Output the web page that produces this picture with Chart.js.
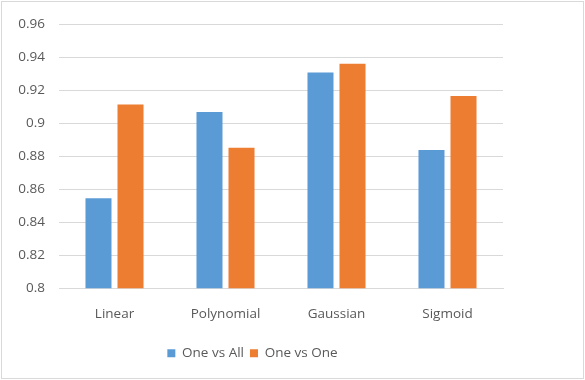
<!DOCTYPE html>
<html>
<head>
<meta charset="utf-8">
<script src="https://cdn.jsdelivr.net/npm/chart.js@4/dist/chart.umd.min.js"></script>
<style>
  html, body { margin: 0; padding: 0; background: #fff; }
  #wrap { position: absolute; left: 1px; top: 1px; width: 581px; height: 376px; border: 1px solid #d9d9d9; box-sizing: content-box; }
  canvas { display: block; }
</style>
</head>
<body>
<div id="wrap"><canvas id="c" width="581" height="376"></canvas></div>
<script>
const categories = ["Linear", "Polynomial", "Gaussian", "Sigmoid"];
const oneVsAll = [0.8545, 0.9068, 0.9307, 0.8838];
const oneVsOne = [0.9113, 0.8851, 0.9360, 0.9164];
const seriesNames = ["One vs All", "One vs One"];
const yMin = 0.8, yMax = 0.96, yStep = 0.02;

const textColor = "#595959";
const fontFamily = "'Open Sans', 'Liberation Sans', sans-serif";

new Chart(document.getElementById("c"), {
  type: "bar",
  data: {
    labels: categories,
    datasets: [
      { label: seriesNames[0], data: oneVsAll, backgroundColor: "#5B9BD5", barPercentage: 0.8125, categoryPercentage: 0.577 },
      { label: seriesNames[1], data: oneVsOne, backgroundColor: "#ED7D31", barPercentage: 0.8125, categoryPercentage: 0.577 }
    ]
  },
  options: {
    responsive: false,
    animation: false,
    layout: { padding: { left: 0, right: 80, top: 9, bottom: 8 } },
    plugins: {
      legend: {
        position: "bottom",
        labels: {
          boxWidth: 8, boxHeight: 8, padding: 6,
          color: textColor,
          font: { family: fontFamily, size: 13.5 }
        }
      },
      tooltip: { enabled: false }
    },
    scales: {
      x: {
        grid: { display: false, drawTicks: false },
        border: { color: "#d9d9d9" },
        ticks: { color: textColor, font: { family: fontFamily, size: 13.5 }, padding: 18 }
      },
      y: {
        min: yMin, max: yMax,
        grid: { color: "#d9d9d9", drawTicks: false },
        border: { display: false },
        afterFit: (s) => { s.width = 57; },
        ticks: {
          stepSize: yStep,
          color: textColor,
          font: { family: fontFamily, size: 13.5 },
          padding: 14,
          callback: (v) => String(parseFloat(v.toFixed(2)))
        }
      }
    }
  }
});
</script>
</body>
</html>
